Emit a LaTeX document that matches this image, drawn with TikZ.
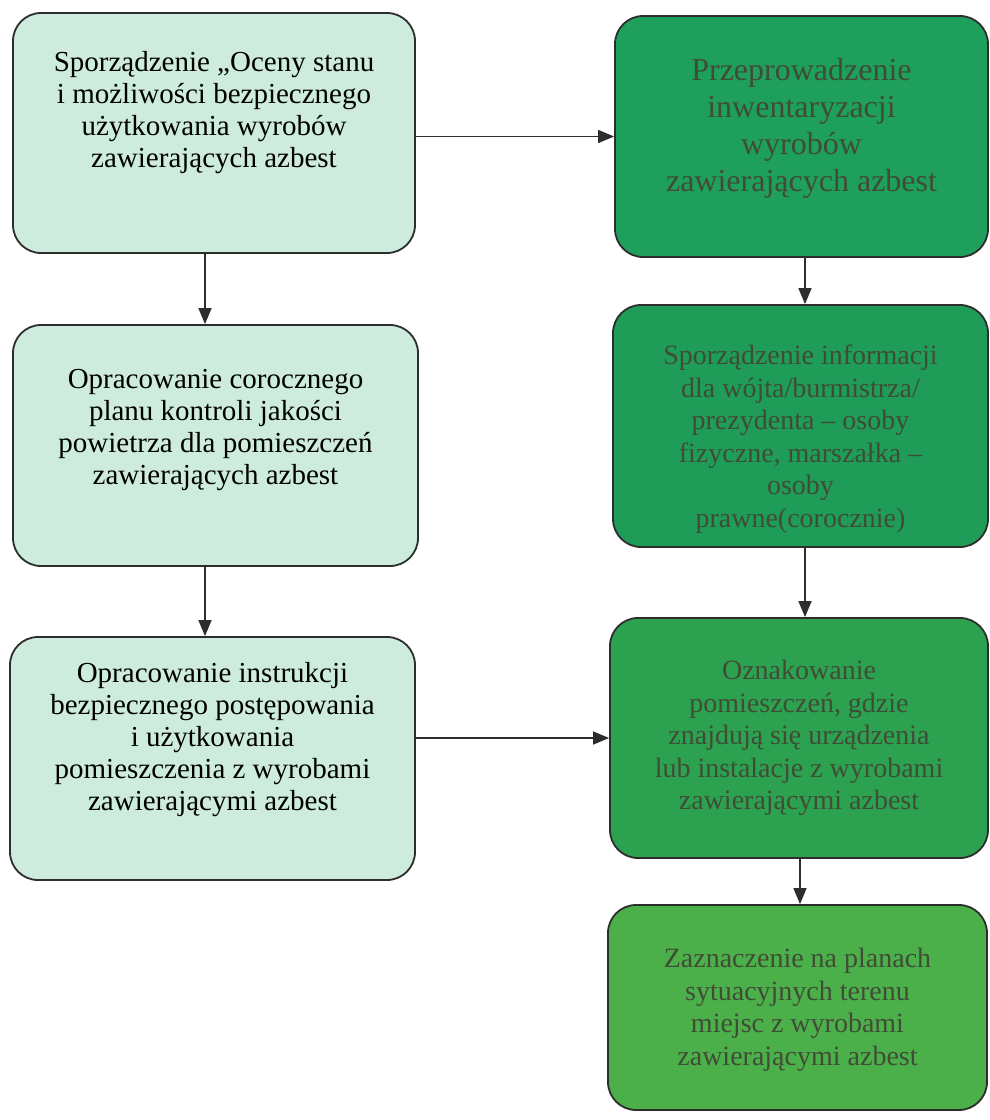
\documentclass[tikz,border=0pt]{standalone}
\usepackage{fontspec}
\setmainfont{Liberation Serif}
\usetikzlibrary{arrows.meta}
\definecolor{mint}{RGB}{205,236,222}
\definecolor{gA}{RGB}{30,160,92}
\definecolor{gB}{RGB}{30,156,88}
\definecolor{gC}{RGB}{44,162,80}
\definecolor{gD}{RGB}{76,176,74}
\definecolor{gtext}{RGB}{64,76,54}
\definecolor{edge}{RGB}{45,45,45}
\tikzset{
  box/.style={draw=edge, line width=1.8pt, rounded corners=28pt, inner sep=0pt},
  lbox/.style={box, fill=mint},
  ltxt/.style={align=center, font=\fontsize{29}{32}\selectfont, text=black, inner sep=0pt},
  gtxt/.style={align=center, font=\fontsize{28}{32.5}\selectfont, text=gtext, inner sep=0pt},
  arr/.style={draw=edge, line width=1.4pt, -{Triangle[length=16pt,width=13pt]}}
}
\begin{document}
\begin{tikzpicture}[x=1pt,y=-1pt]
\useasboundingbox (0,0) rectangle (989,1120);
% left column
\node[lbox, minimum width=402pt, minimum height=240pt] (L1) at (214,133) {};
\node[lbox, minimum width=405pt, minimum height=241pt] (L2) at (215.5,445.5) {};
\node[lbox, minimum width=405pt, minimum height=243pt] (L3) at (212.5,758.5) {};
% right column
\node[box, fill=gA, minimum width=373pt, minimum height=241pt] (R1) at (801.5,136.5) {};
\node[box, fill=gB, minimum width=375pt, minimum height=242pt] (R2) at (800.5,426) {};
\node[box, fill=gC, minimum width=378pt, minimum height=240pt] (R3) at (799,738) {};
\node[box, fill=gD, minimum width=379pt, minimum height=205pt] (R4) at (797.5,1007.5) {};
% texts
\node[ltxt] (tL1) at ([yshift=20pt]L1.center) {Sporządzenie „Oceny stanu\\i możliwości bezpiecznego\\użytkowania wyrobów\\zawierających azbest};
\node[ltxt] (tL2) at ([yshift=15.5pt]L2.center) {Opracowanie corocznego\\planu kontroli jakości\\powietrza dla pomieszczeń\\zawierających azbest};
\node[ltxt] (tL3) at ([yshift=18.5pt]L3.center) {Opracowanie instrukcji\\bezpiecznego postępowania\\i użytkowania\\pomieszczenia z wyrobami\\zawierającymi azbest};
\node[gtxt, font=\fontsize{32}{37}\selectfont] (tR1) at ([yshift=8.5pt]R1.center) {Przeprowadzenie\\inwentaryzacji\\wyrobów\\zawierających azbest};
\node[gtxt] (tR2) at ([yshift=-13pt]R2.center) {Sporządzenie informacji\\dla wójta/burmistrza/\\prezydenta – osoby\\fizyczne, marszałka –\\osoby\\prawne(corocznie)};
\node[gtxt] (tR3) at (R3.center) {Oznakowanie\\pomieszczeń, gdzie\\znajdują się urządzenia\\lub instalacje z wyrobami\\zawierającymi azbest};
\node[gtxt] (tR4) at ([yshift=-2.5pt]R4.center) {Zaznaczenie na planach\\sytuacyjnych terenu\\miejsc z wyrobami\\zawierającymi azbest};
% connectors
\draw[arr] ([xshift=-9pt]L1.south) -- ([xshift=-9pt]L1.south |- L2.north);
\draw[arr] ([xshift=-10.5pt]L2.south) -- ([xshift=-10.5pt]L2.south |- L3.north);
\draw[arr] (L1.east |- R1.west) -- (R1.west);
\draw[arr] (L3.east |- R3.west) -- (R3.west);
\draw[arr] ([xshift=3.5pt]R1.south) -- ([xshift=3.5pt]R1.south |- R2.north);
\draw[arr] ([xshift=4.5pt]R2.south) -- ([xshift=4.5pt]R2.south |- R3.north);
\draw[arr] ([xshift=1pt]R3.south) -- ([xshift=1pt]R3.south |- R4.north);
\end{tikzpicture}
\end{document}
